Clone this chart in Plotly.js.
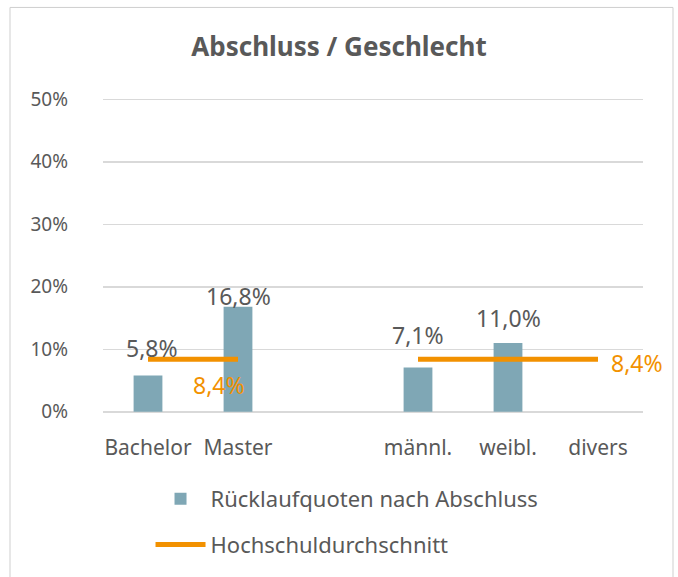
<!DOCTYPE html>
<html>
<head>
<meta charset="utf-8">
<script src="https://cdn.plot.ly/plotly-3.0.1.min.js"></script>
<style>html,body{margin:0;padding:0;background:#fff}#chart{width:678px;height:577px}</style>
</head>
<body>
<div id="chart"></div>
<script>
// ---- data ----
const categories = ["Bachelor", "Master", " ", "männl.", "weibl.", "divers"];
const quoteValues = [0.058, 0.168, null, 0.071, 0.110, null];
const quoteLabels = ["5,8%", "16,8%", "", "7,1%", "11,0%", ""];
const avgAbschlussCats = ["Bachelor", "Master"];
const avgAbschlussVals = [0.084, 0.084];
const avgGeschlechtCats = ["männl.", "weibl.", "divers"];
const avgGeschlechtVals = [0.084, 0.084, 0.084];
const avgLabel = "8,4%";
const seriesNames = ["Rücklaufquoten nach Abschluss", "Hochschuldurchschnitt"];
const yTickVals = [0, 0.1, 0.2, 0.3, 0.4, 0.5];
const yTickText = ["0%", "10%", "20%", "30%", "40%", "50%"];

// ---- styling ----
const FONT = "Noto Sans, DejaVu Sans, sans-serif";
const GREY = "#595959";
const BAR = "#7fa7b5";
const ORANGE = "#f29100";
const labelShiftY = [28, 11, 0, 32, 25, 0];
const labelShiftX = [4, 0, 0, 0, 0, 0];

const traces = [
  {type: "bar", x: categories, y: quoteValues, name: seriesNames[0],
   marker: {color: BAR}, legendgroup: "a", hoverinfo: "skip"},
  {type: "scatter", mode: "lines", x: avgAbschlussCats, y: avgAbschlussVals, name: seriesNames[1],
   line: {color: ORANGE, width: 5}, legendgroup: "b", hoverinfo: "skip"},
  {type: "scatter", mode: "lines", x: avgGeschlechtCats, y: avgGeschlechtVals, name: seriesNames[1],
   line: {color: ORANGE, width: 5}, legendgroup: "b", showlegend: false, hoverinfo: "skip"}
];

const annotations = [];
categories.forEach((c, i) => {
  if (quoteValues[i] === null) return;
  annotations.push({x: c, y: quoteValues[i], xref: "x", yref: "y", text: quoteLabels[i],
    showarrow: false, yanchor: "middle", yshift: labelShiftY[i], xshift: labelShiftX[i],
    font: {family: FONT, size: 23, color: GREY}});
});
annotations.push({x: avgAbschlussCats[1], y: avgAbschlussVals[1], xref: "x", yref: "y", text: avgLabel,
  showarrow: false, xshift: -19, yshift: -26, font: {family: FONT, size: 23, color: ORANGE}});
annotations.push({x: avgGeschlechtCats[2], y: avgGeschlechtVals[2], xref: "x", yref: "y", text: avgLabel,
  showarrow: false, xanchor: "left", xshift: 11, yshift: -4, font: {family: FONT, size: 23, color: ORANGE}});

const layout = {
  width: 678, height: 577,
  margin: {l: 103, r: 35, t: 97.6, b: 164.25},
  paper_bgcolor: "#fff", plot_bgcolor: "#fff",
  font: {family: FONT, color: GREY, size: 19},
  title: {text: "<b>Abschluss / Geschlecht</b>", x: 0.5, xanchor: "center", y: 0.918, yanchor: "middle",
          font: {family: FONT, size: 26, color: GREY}},
  bargap: 0.68,
  showlegend: true,
  legend: {orientation: "v", xref: "paper", x: 0.088, xanchor: "left",
           yref: "container", y: 0.1716, yanchor: "top",
           font: {family: FONT, size: 22, color: GREY}, tracegroupgap: 14, itemwidth: 50,
           bgcolor: "rgba(0,0,0,0)"},
  xaxis: {type: "category", categoryorder: "array", categoryarray: categories, range: [-0.5, 5.5],
          showgrid: false, zeroline: false, showline: false, ticks: "",
          ticklabelstandoff: 20, tickfont: {family: FONT, size: 21, color: GREY}, fixedrange: true},
  yaxis: {range: [-0.002, 0.502], tickvals: yTickVals, ticktext: yTickText, showgrid: true,
          gridcolor: "#d9d9d9", gridwidth: 1.5, zeroline: false, showline: false, ticks: "",
          ticklabelstandoff: 34, tickfont: {family: FONT, size: 19, color: GREY}, fixedrange: true},
  annotations: annotations,
  shapes: [
    {type: "rect", xref: "paper", yref: "paper", x0: (10 - 103) / 540, x1: (673 - 103) / 540,
     y0: -0.6, y1: (412.75 - 7) / 315.15, line: {color: "#cfcfcf", width: 1}, fillcolor: "rgba(0,0,0,0)", layer: "below"}
  ]
};

Plotly.newPlot("chart", traces, layout, {displayModeBar: false, staticPlot: true});
</script>
</body>
</html>
